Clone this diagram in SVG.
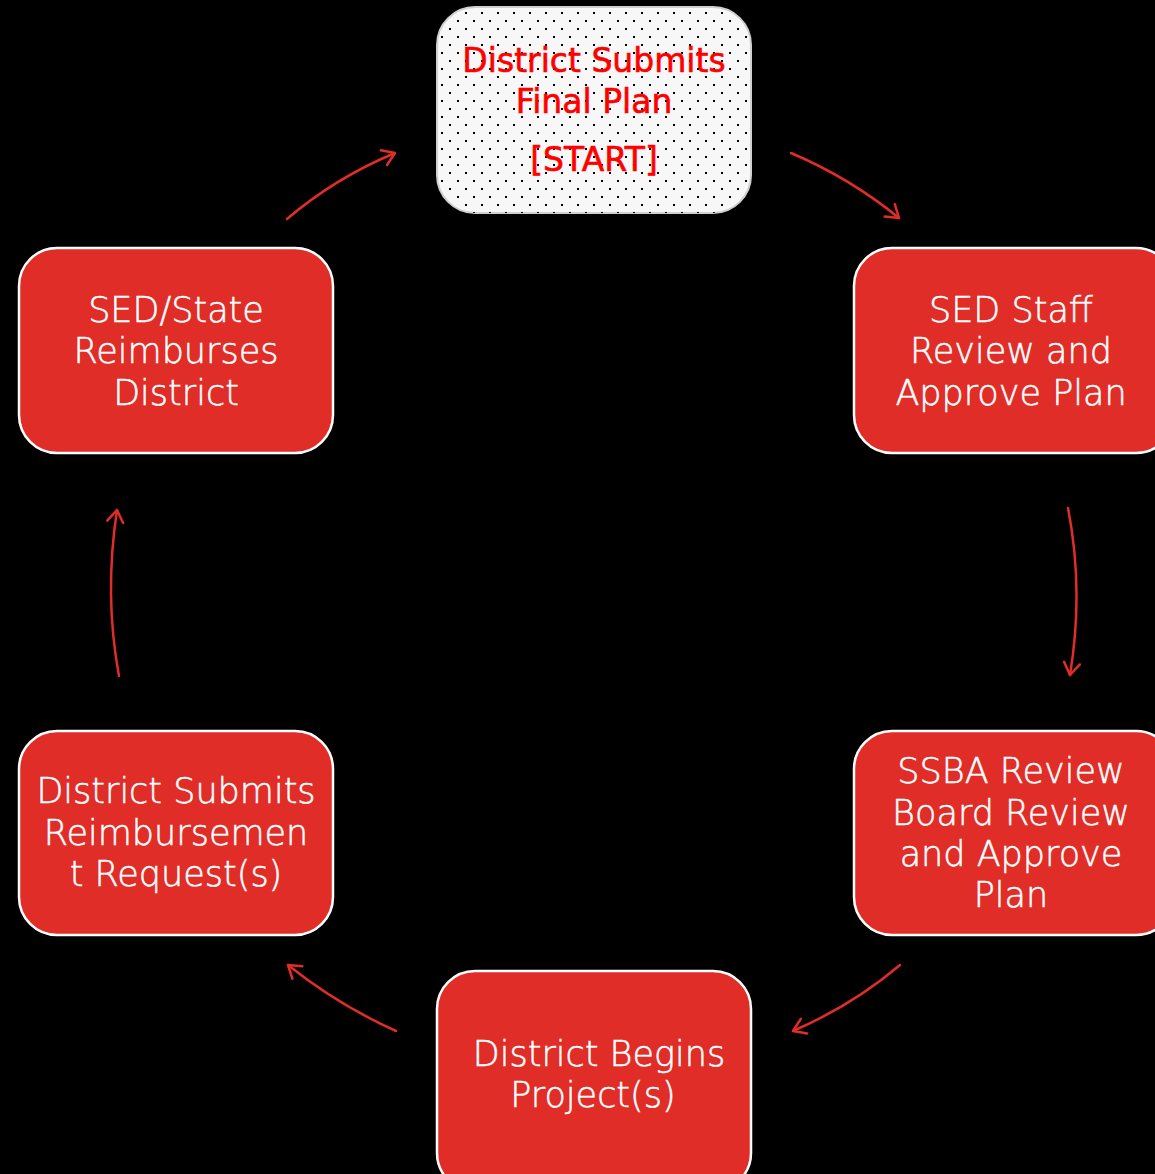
<svg xmlns="http://www.w3.org/2000/svg" width="1155" height="1174" viewBox="0 0 1155 1174">
<defs>
<pattern id="dots" x="441" y="4" width="16" height="16" patternUnits="userSpaceOnUse">
<rect x="0" y="0" width="2" height="2" fill="#000"/>
<rect x="8" y="8" width="2" height="2" fill="#000"/>
</pattern>
<marker id="arr" viewBox="0 0 20 20" refX="18" refY="10" markerWidth="20" markerHeight="20" markerUnits="userSpaceOnUse" orient="auto">
<polyline points="6,2 18,10 6,18" fill="none" stroke="#e02d28" stroke-width="2.5" stroke-linecap="round" stroke-linejoin="round"/>
</marker>
<style>
.box{fill:#e02d28;stroke:#ffffff;stroke-width:2.5}
.lbl{font-family:"DejaVu Sans","Liberation Sans",sans-serif;font-weight:200;font-size:35px;fill:#ffffff;stroke:#ffffff;stroke-width:0.5;text-anchor:middle}
.start{font-family:"DejaVu Sans","Liberation Sans",sans-serif;font-size:33px;fill:#ff0000;stroke:#ff0000;stroke-width:0.6;text-anchor:middle}
.conn{fill:none;stroke:#e02d28;stroke-width:2.5;stroke-linecap:round;marker-end:url(#arr)}
</style>
</defs>
<rect width="1155" height="1174" fill="#000"/>
<g id="connectors">
<path class="conn" d="M287,219 Q335,178 395,153"/>
<path class="conn" d="M791,153 Q850,178 899,218"/>
<path class="conn" d="M1068,508 Q1084,590 1070,675"/>
<path class="conn" d="M900,965 Q853,1005 793,1031"/>
<path class="conn" d="M396,1031 Q338,1005 288,965"/>
<path class="conn" d="M119,676 Q104,595 117,510"/>
</g>
<g id="node-start">
<rect x="437" y="7" width="314" height="206" rx="38" fill="#f7f7f7" stroke="#d0d0d0" stroke-width="2"/>
<rect x="437" y="7" width="314" height="206" rx="38" fill="url(#dots)"/>
<text class="start" x="594" y="72">District Submits</text>
<text class="start" x="594" y="113">Final Plan</text>
<text class="start" x="594" y="171">[START]</text>
</g>
<g id="node-sed-staff">
<rect class="box" x="854" y="248" width="320" height="205" rx="38"/>
<text class="lbl" x="1011" y="322">SED Staff</text>
<text class="lbl" x="1011" y="363">Review and</text>
<text class="lbl" x="1011" y="405">Approve Plan</text>
</g>
<g id="node-ssba">
<rect class="box" x="854" y="731" width="320" height="204" rx="38"/>
<text class="lbl" x="1011" y="783">SSBA Review</text>
<text class="lbl" x="1011" y="825">Board Review</text>
<text class="lbl" x="1011" y="866">and Approve</text>
<text class="lbl" x="1011" y="907">Plan</text>
</g>
<g id="node-begins">
<rect class="box" x="437" y="971" width="314" height="220" rx="38"/>
<text class="lbl" x="599" y="1066">District Begins</text>
<text class="lbl" x="593" y="1107">Project(s)</text>
</g>
<g id="node-reimb-request">
<rect class="box" x="19" y="731" width="314" height="204" rx="38"/>
<text class="lbl" x="176" y="803">District Submits</text>
<text class="lbl" x="176" y="845">Reimbursemen</text>
<text class="lbl" x="176" y="886">t Request(s)</text>
</g>
<g id="node-reimburses">
<rect class="box" x="19" y="248" width="314" height="205" rx="38"/>
<text class="lbl" x="176" y="322">SED/State</text>
<text class="lbl" x="176" y="363">Reimburses</text>
<text class="lbl" x="176" y="405">District</text>
</g>
</svg>
